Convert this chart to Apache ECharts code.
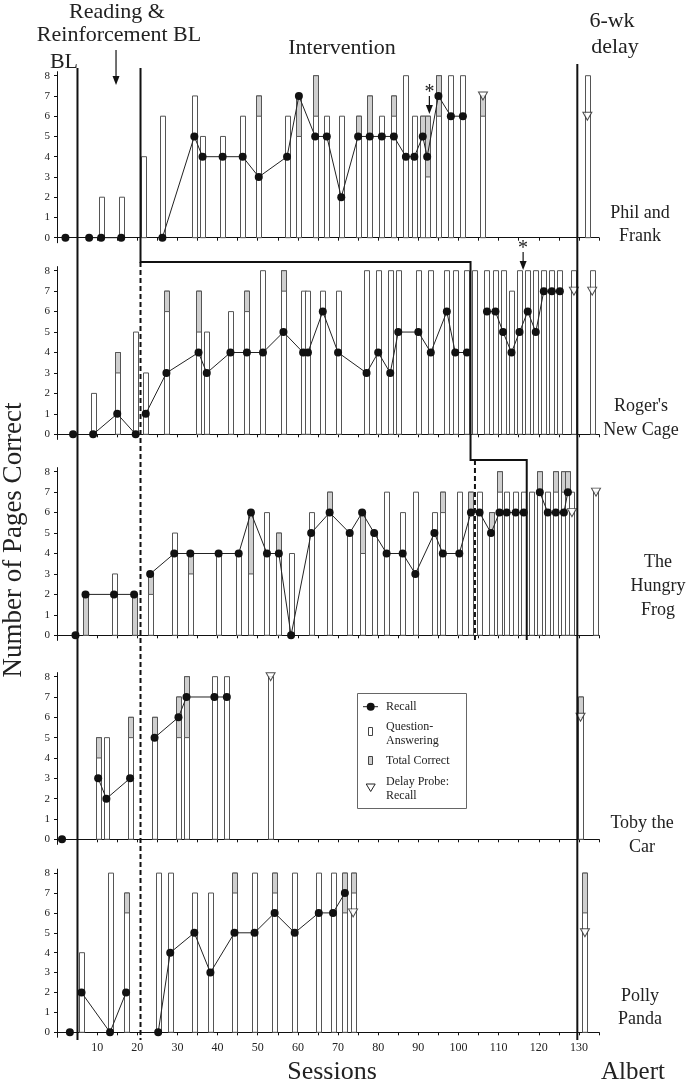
<!DOCTYPE html>
<html><head><meta charset="utf-8">
<script src="https://cdn.jsdelivr.net/npm/echarts@6/dist/echarts.min.js"></script>
<style>html,body{margin:0;padding:0;background:#fff}#c{width:691px;height:1088px}</style>
</head><body><div id="c"></div>
<script>
// ---------------- DATA ----------------
const panelNames = [["Phil and","Frank"],["Roger's","New Cage"],["The","Hungry","Frog"],["Toby the","Car"],["Polly","Panda"]];
const xTickValues = [0,5,10,15,20,25,30,35,40,45,50,55,60,65,70,75,80,85,90,95,100,105,110,115,120,125,130,135];
const xLabelValues = [10,20,30,40,50,60,70,80,90,100,110,120,130];
const yTickValues = [0,1,2,3,4,5,6,7,8];

// bars: [session, question-answering, total correct]
const p1Bars = [[11,2,2],[16,2,2],[21.6,4,4],[26.25,6,6],[34.2,7,7],[36.25,5,5],[41.25,5,5],[46.25,6,6],[50.25,6,7],[57.3,6,6],[60.25,5,7],[64.3,6,8],[67.2,6,6],[70.8,6,6],[75,5,6],[77.9,5,7],[80.9,6,6],[83.9,6,7],[86.9,8,8],[89,6,6],[91.1,5,6],[92.2,3,6],[95,6,8],[98.1,8,8],[101.1,8,8],[106.1,6,7],[132.1,8,8]];
const p1Recall = [[2.1,0],[8,0],[11,0],[16,0],[26.25,0],[34.2,5],[36.25,4],[41.25,4],[46.25,4],[50.25,3],[57.3,4],[60.25,7],[64.3,5],[67.2,5],[70.8,2],[75,5],[77.9,5],[80.9,5],[83.9,5],[86.9,4],[89,4],[91.1,5],[92.2,4],[95,7],[98.1,6],[101.1,6]];
const p1Probe = [[106.1,7],[132.1,6]];

const p2Bars = [[9,2,2],[15,3,4],[19.6,5,5],[22.1,3,3],[27.25,6,7],[35.25,5,7],[37.3,5,5],[43.2,6,6],[47.3,6,7],[51.3,8,8],[56.4,7,8],[61.3,7,7],[62.5,7,7],[66.2,7,7],[70,7,7],[77.1,8,8],[80,8,8],[83,8,8],[85,8,8],[90,8,8],[93.1,8,8],[97.1,8,8],[99.2,8,8],[102.1,8,8],[104.1,8,8],[107.1,8,8],[109.2,8,8],[111.1,8,8],[113.2,7,7],[115.2,8,8],[117.25,8,8],[119.25,8,8],[121.25,8,8],[123.25,8,8],[125.25,8,8],[128.75,8,8],[133.3,8,8]];
const p2Recall = [[4,0],[9,0],[15,1],[19.6,0],[22.1,1],[27.25,3],[35.25,4],[37.3,3],[43.2,4],[47.3,4],[51.3,4],[56.4,5],[61.3,4],[62.5,4],[66.2,6],[70,4],[77.1,3],[80,4],[83,3],[85,5],[90,5],[93.1,4],[97.1,6],[99.2,4],[102.1,4],[107.1,6],[109.2,6],[111.1,5],[113.2,4],[115.2,5],[117.25,6],[119.25,5],[121.25,7],[123.25,7],[125.25,7]];
const p2Probe = [[128.75,7],[133.3,7]];

const p3Bars = [[7.1,0,2],[14.2,3,3],[19.2,0,2],[23.2,2,3],[29.2,5,5],[33.2,3,4],[40.25,4,4],[45.25,4,4],[48.3,3,6],[52.3,6,6],[55.25,4,5],[58.3,4,4],[63.3,6,6],[67.9,6,7],[72.9,5,5],[76,4,6],[79,5,5],[82.1,7,7],[86.1,6,6],[89.25,7,7],[94,6,6],[96.1,6,7],[100.2,7,7],[103.1,6,7],[105.25,7,7],[108.1,5,6],[110.2,7,8],[112,7,7],[114.25,7,7],[116.25,7,7],[118.25,7,7],[120.25,7,8],[122.25,7,7],[124.25,7,8],[126.25,7,8],[127.25,7,8],[128.25,7,7],[134.25,7,7]];
const p3Recall = [[4.6,0],[7.1,2],[14.2,2],[19.2,2],[23.2,3],[29.2,4],[33.2,4],[40.25,4],[45.25,4],[48.3,6],[52.3,4],[55.25,4],[58.3,0],[63.3,5],[67.9,6],[72.9,5],[76,6],[79,5],[82.1,4],[86.1,4],[89.25,3],[94,5],[96.1,4],[100.2,4],[103.1,6],[105.25,6],[108.1,5],[110.2,6],[112,6],[114.25,6],[116.25,6],[120.25,7],[122.25,6],[124.25,6],[126.25,6],[127.25,7]];
const p3Probe = [[128.25,6],[134.25,7]];

const p4Bars = [[10.25,4,5],[12.3,5,5],[18.2,5,6],[24.3,5,6],[30.25,5,7],[32.25,5,8],[39.2,8,8],[42.3,8,8],[53.2,8,8],[130.4,6,7]];
const p4Recall = [[1.25,0],[10.25,3],[12.3,2],[18.2,3],[24.3,5],[30.25,6],[32.25,7],[39.2,7],[42.3,7]];
const p4Probe = [[53.2,8],[130.4,6]];

const p5Bars = [[6.1,4,4],[13.2,8,8],[17.2,6,7],[25.2,8,8],[28.2,8,8],[34.2,7,7],[38.2,7,7],[44.2,7,8],[49.2,8,8],[54.2,7,8],[59.2,8,8],[65.2,8,8],[68.75,8,8],[71.7,6,8],[73.75,7,8],[131.5,6,8]];
const p5Recall = [[3.2,0],[6.1,2],[13.2,0],[17.2,2],[25.2,0],[28.2,4],[34.2,5],[38.2,3],[44.2,5],[49.2,5],[54.2,6],[59.2,5],[65.2,6],[68.75,6],[71.7,7]];
const p5Probe = [[73.75,6],[131.5,5]];

// phase-change sessions
const blLine = 5.1, interventionLine = 20.8, step2Line = 103, dashed2Line = 104.1, step3Line = 117, delayLine = 129.6;
const phaseBreaks = [
  [blLine, interventionLine, delayLine],
  [blLine, interventionLine, step2Line, delayLine],
  [blLine, interventionLine, dashed2Line, step3Line, delayLine],
  [blLine, interventionLine, delayLine],
  [blLine, interventionLine, delayLine]
];
const asterisk1 = 92.75, asterisk2 = 116.1, rrArrow = 14.7;

// ---------------- LAYOUT ----------------
const FONT = 'Liberation Serif';
const layout = [
  {zero:237.7, unit:20.25},
  {zero:434.3, unit:20.45},
  {zero:635.3, unit:20.45},
  {zero:839.3, unit:20.33},
  {zero:1032.3, unit:19.9}
];
const Y_MIN = -0.25, Y_MAX = 8.2, X_MIN = -0.5, X_MAX = 135;
const panels = [
  {bars:p1Bars, recall:p1Recall, probe:p1Probe},
  {bars:p2Bars, recall:p2Recall, probe:p2Probe},
  {bars:p3Bars, recall:p3Recall, probe:p3Probe},
  {bars:p4Bars, recall:p4Recall, probe:p4Probe},
  {bars:p5Bars, recall:p5Recall, probe:p5Probe}
];

function segments(points, breaks) {
  const groups = {};
  points.forEach(p => {
    let k = 0; while (k < breaks.length && p[0] > breaks[k]) k++;
    (groups[k] = groups[k] || []).push(p);
  });
  return Object.keys(groups).map(k => groups[k]);
}

function renderBar(params, api) {
  const s = api.value(0), qa = api.value(1), tot = api.value(2);
  const p0 = api.coord([s, 0]), pq = api.coord([s, qa]), pt = api.coord([s, tot]);
  const w = 5, x = Math.round(p0[0] - w / 2) + 0.5;
  const ch = [{type:'rect', shape:{x:x, y:pt[1], width:w, height:p0[1]-pt[1]}, style:{fill:'#fff', stroke:'#555', lineWidth:1}}];
  if (tot > qa) ch.push({type:'rect', shape:{x:x, y:pt[1], width:w, height:pq[1]-pt[1]}, style:{fill:'#cfcfcf', stroke:'#555', lineWidth:1}});
  return {type:'group', children:ch};
}

const grid = [], xAxis = [], yAxis = [], series = [];
layout.forEach((l, i) => {
  grid.push({left:55, right:92, top:l.zero - Y_MAX*l.unit, height:(Y_MAX - Y_MIN)*l.unit});
  xAxis.push({type:'value', gridIndex:i, min:X_MIN, max:X_MAX, splitLine:{show:false},
    axisLine:{lineStyle:{color:'#111', width:1}},
    axisTick:{customValues:xTickValues, length:3, lineStyle:{color:'#111'}},
    axisLabel:{show:i===4, customValues:xLabelValues, fontFamily:FONT, fontSize:12, color:'#222', margin:5}});
  yAxis.push({type:'value', gridIndex:i, min:Y_MIN, max:Y_MAX, splitLine:{show:false},
    axisLine:{show:true, lineStyle:{color:'#111', width:1}},
    axisTick:{show:true, customValues:yTickValues, length:3, lineStyle:{color:'#111'}},
    axisLabel:{customValues:yTickValues, fontFamily:FONT, fontSize:11, color:'#222', margin:5}});
  const p = panels[i];
  series.push({type:'custom', xAxisIndex:i, yAxisIndex:i, data:p.bars, renderItem:renderBar, z:2, clip:false, encode:{x:0, y:[1,2]}});
  segments(p.recall, phaseBreaks[i]).forEach(seg => series.push({type:'line', xAxisIndex:i, yAxisIndex:i, data:seg, symbol:'circle', symbolSize:8, showSymbol:true, itemStyle:{color:'#111'}, lineStyle:{color:'#222', width:1}, z:3, clip:false}));
  series.push({type:'scatter', xAxisIndex:i, yAxisIndex:i, data:p.probe, symbol:'triangle', symbolRotate:180, symbolSize:[9,8], itemStyle:{color:'#fff', borderColor:'#222', borderWidth:1}, z:4});
});

const chart = echarts.init(document.getElementById('c'));
chart.setOption({animation:false, backgroundColor:'#fff', grid, xAxis, yAxis, series});

// ---------------- ANNOTATIONS ----------------
const xp = s => chart.convertToPixel({xAxisIndex:0}, s);
const g = [];
const line = (pts, dash) => g.push({type:'polyline', shape:{points:pts}, style:{stroke:'#111', lineWidth:2, fill:null, lineDash:dash||null}, z:10});
const text = (t, x, y, size, align) => g.push({type:'text', x:x, y:y, style:{text:t, font:size+'px "'+FONT+'"', fill:'#222', align:align||'center', verticalAlign:'middle'}, z:11});
const arrow = (x, y1, y2) => {
  g.push({type:'line', shape:{x1:x, y1:y1, x2:x, y2:y2-6}, style:{stroke:'#111', lineWidth:1.2}, z:11});
  g.push({type:'polygon', shape:{points:[[x-3.5,y2-9],[x+3.5,y2-9],[x,y2]]}, style:{fill:'#111'}, z:11});
};
line([[xp(blLine),68],[xp(blLine),1040]]);
line([[xp(delayLine),64],[xp(delayLine),1040]]);
line([[xp(interventionLine),68],[xp(interventionLine),262],[xp(step2Line),262],[xp(step2Line),460],[xp(step3Line),460],[xp(step3Line),640]]);
line([[xp(interventionLine),262],[xp(interventionLine),1040]], [5,3]);
line([[xp(dashed2Line),460],[xp(dashed2Line),640]], [5,3]);
arrow(xp(rrArrow), 50, 85);
arrow(xp(asterisk1), 96, 114);
text('*', xp(asterisk1), 93, 20);
arrow(xp(asterisk2), 252, 270);
text('*', xp(asterisk2), 249, 20);

text('Reading &', 117, 12, 22);
text('Reinforcement BL', 119, 35, 22);
text('BL', 64, 62, 22);
text('Intervention', 342, 48, 22);
text('6-wk', 612, 21, 22);
text('delay', 615, 47, 22);
text('Sessions', 332, 1072, 26);
text('Albert', 633, 1072, 25);
g.push({type:'text', x:14, y:540, rotation:Math.PI/2, style:{text:'Number of Pages Correct', font:'27px "'+FONT+'"', fill:'#222', align:'center', verticalAlign:'middle'}, z:11});

const labelPos = [[640,[213,236]],[641,[406,430]],[658,[562,586,610]],[642,[823,847]],[640,[996,1019]]];
panelNames.forEach((lines, i) => lines.forEach((t, j) => text(t, labelPos[i][0], labelPos[i][1][j], 18)));

// legend
g.push({type:'rect', shape:{x:357.5, y:693.5, width:109, height:115}, style:{fill:'#fff', stroke:'#666', lineWidth:1}, z:9});
g.push({type:'line', shape:{x1:363, y1:706.7, x2:378, y2:706.7}, style:{stroke:'#222', lineWidth:1}, z:11});
g.push({type:'circle', shape:{cx:370.7, cy:706.7, r:4}, style:{fill:'#111'}, z:11});
g.push({type:'rect', shape:{x:368.5, y:727.5, width:4, height:8}, style:{fill:'#fff', stroke:'#444', lineWidth:1}, z:11});
g.push({type:'rect', shape:{x:368.5, y:756.5, width:4, height:8}, style:{fill:'#cfcfcf', stroke:'#444', lineWidth:1}, z:11});
g.push({type:'polygon', shape:{points:[[366.2,784],[375.2,784],[370.7,791.5]]}, style:{fill:'#fff', stroke:'#222', lineWidth:1}, z:11});
[['Recall',706.7],['Question-',726.7],['Answering',740.7],['Total Correct',760.7],['Delay Probe:',782],['Recall',795.5]].forEach(e => text(e[0], 386, e[1], 12, 'left'));

chart.setOption({graphic:g});
</script></body></html>
